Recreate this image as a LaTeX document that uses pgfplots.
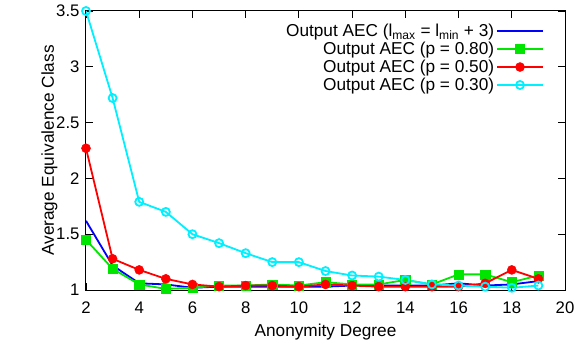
\documentclass[border=0pt]{standalone}
\usepackage{pgfplots}
\pgfplotsset{compat=1.18}
\usepackage{fontspec}
\setmainfont{Liberation Sans}
\definecolor{gblue}{RGB}{0,0,255}
\definecolor{ggreen}{RGB}{0,230,0}
\definecolor{gred}{RGB}{255,0,0}
\definecolor{gcyan}{RGB}{0,240,255}
\begin{document}
\begin{tikzpicture}[x=1bp,y=1bp]
\path[use as bounding box] (-86,-59) rectangle (500,290);
\begin{axis}[
  at={(0,0)}, anchor=south west,
  scale only axis, width=479bp, height=279bp,
  xmin=2, xmax=20, ymin=1, ymax=3.5,
  xtick={2,4,...,20}, ytick={1,1.5,2,2.5,3,3.5},
  yticklabels={1,1.5,2,2.5,3,3.5},
  tick align=inside, major tick length=7bp,
  tick style={black, line width=0.8bp},
  axis line style={line width=1bp},
  /pgf/number format/assume math mode=true,
  ticklabel style={font=\fontsize{16.8}{18}\selectfont},
  xticklabel style={yshift=-8bp},
  yticklabel style={xshift=-3bp},
  xlabel={Anonymity Degree}, ylabel={Average Equivalence Class},
  label style={font=\fontsize{17.3}{18}\selectfont},
  xlabel style={yshift=-4bp},
  ylabel style={yshift=-8bp},
  legend plot pos=right,
  legend cell align=right,
  legend style={draw=none, fill=none, at={(0.957,0.962)}, anchor=north east,
    font=\fontsize{17.3}{17.3}\selectfont, row sep=0bp, inner sep=0.3bp},
  legend image code/.code={\draw[mark repeat=2,mark phase=2,#1] plot coordinates {(0bp,0bp) (23bp,0bp) (46bp,0bp)};},
  every axis plot/.append style={line width=1.8bp},
]
\addplot[gblue, no marks] coordinates {
(2,1.62) (3,1.22) (4,1.06) (5,1.05) (6,1.02) (7,1.03) (8,1.03) (9,1.03) (10,1.03)
(11,1.03) (12,1.04) (13,1.04) (14,1.04) (15,1.04) (16,1.06) (17,1.04) (18,1.05) (19,1.08)};
\addlegendentry{Output AEC (l\textsubscript{max} = l\textsubscript{min} + 3)}
\addplot[ggreen, mark=square*, mark size=4.6bp, mark options={solid, line width=0.5bp}] coordinates {
(2,1.45) (3,1.19) (4,1.05) (5,1.01) (6,1.02) (7,1.04) (8,1.04) (9,1.05) (10,1.04)
(11,1.07) (12,1.05) (13,1.05) (14,1.09) (15,1.05) (16,1.14) (17,1.14) (18,1.07) (19,1.13)};
\addlegendentry{Output AEC (p = 0.80)}
\addplot[gred, mark=*, mark size=4.5bp, mark options={line width=0.5bp}] coordinates {
(2,2.27) (3,1.28) (4,1.18) (5,1.10) (6,1.05) (7,1.03) (8,1.04) (9,1.04) (10,1.03)
(11,1.05) (12,1.04) (13,1.03) (14,1.03) (15,1.03) (16,1.03) (17,1.06) (18,1.18) (19,1.10)};
\addlegendentry{Output AEC (p = 0.50)}
\addplot[gcyan, mark=o, mark size=4bp] coordinates {
(2,3.50) (3,2.72) (4,1.79) (5,1.70) (6,1.50) (7,1.42) (8,1.33) (9,1.25) (10,1.25)
(11,1.17) (12,1.13) (13,1.12) (14,1.09) (15,1.05) (16,1.04) (17,1.03) (18,1.02) (19,1.04)};
\addlegendentry{Output AEC (p = 0.30)}
\end{axis}
\end{tikzpicture}
\end{document}
